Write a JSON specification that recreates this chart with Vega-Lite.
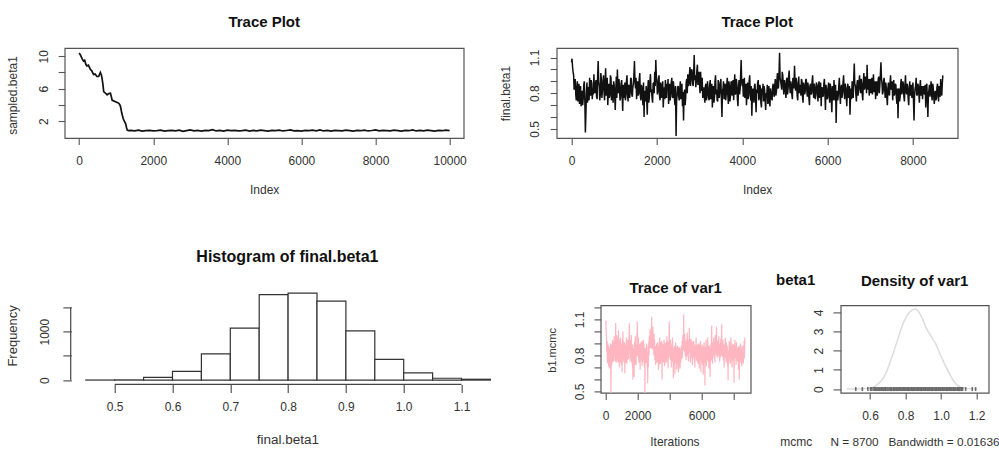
{
 "$schema": "https://vega.github.io/schema/vega-lite/v6.json",
 "background": "white",
 "padding": {"left": 5.7, "top": 14, "right": 0, "bottom": 0},
 "bounds": "flush",
 "spacing": 257.4,
 "config": {
  "font": "Liberation Sans",
  "view": {"stroke": "#555", "strokeWidth": 1.2},
  "axis": {"domain": false, "grid": false, "tickColor": "#555", "tickWidth": 1.1, "labelFont": "Liberation Sans", "labelFontSize": 12, "labelColor": "#333", "titleFont": "Liberation Sans", "titleFontSize": 12, "titleFontWeight": "normal", "titleColor": "#333", "labelOverlap": false, "labelFlush": false, "labelBound": false},
  "title": {"font": "Liberation Sans", "fontWeight": "bold", "color": "#111", "anchor": "middle", "frame": "group", "baseline": "alphabetic"}
 },
 "datasets": {
  "burn": [
   {"i":1,"v":10.4},{"i":40,"v":10.1},{"i":80,"v":9.7},{"i":117,"v":9.4},{"i":150,"v":9.5},{"i":180,"v":9.0},{"i":209,"v":8.8},{"i":250,"v":8.9},{"i":300,"v":8.4},{"i":340,"v":8.2},{"i":390,"v":7.75},{"i":430,"v":7.8},{"i":480,"v":7.5},{"i":527,"v":7.5},{"i":572,"v":8.0},{"i":600,"v":7.7},{"i":617,"v":7.3},{"i":640,"v":6.6},{"i":663,"v":5.65},{"i":700,"v":5.5},{"i":754,"v":5.25},{"i":800,"v":5.4},{"i":845,"v":5.45},{"i":870,"v":5.0},{"i":890,"v":4.6},{"i":930,"v":4.5},{"i":981,"v":4.4},{"i":1030,"v":4.3},{"i":1072,"v":4.2},{"i":1100,"v":4.0},{"i":1117,"v":3.8},{"i":1150,"v":3.0},{"i":1190,"v":2.3},{"i":1220,"v":2.0},{"i":1254,"v":1.7},{"i":1280,"v":1.2},{"i":1300,"v":0.9},{"i":1330,"v":0.85},
   {"i":1400,"v":0.86},{"i":1500,"v":0.82},{"i":1600,"v":0.90},{"i":1700,"v":0.79},{"i":1800,"v":0.85},{"i":1900,"v":0.88},{"i":2000,"v":0.80},{"i":2100,"v":0.84},{"i":2200,"v":0.91},{"i":2300,"v":0.78},
   {"i":2400,"v":0.83},{"i":2500,"v":0.87},{"i":2600,"v":0.81},{"i":2700,"v":0.89},{"i":2800,"v":0.76},{"i":2900,"v":0.85},{"i":3000,"v":0.92},{"i":3100,"v":0.82},{"i":3200,"v":0.86},{"i":3300,"v":0.79},
   {"i":3400,"v":0.88},{"i":3500,"v":0.84},{"i":3600,"v":0.95},{"i":3700,"v":0.80},{"i":3800,"v":0.86},{"i":3900,"v":0.78},{"i":4000,"v":0.90},{"i":4100,"v":0.83},{"i":4200,"v":0.87},{"i":4300,"v":0.81},
   {"i":4400,"v":0.85},{"i":4500,"v":0.91},{"i":4600,"v":0.79},{"i":4700,"v":0.86},{"i":4800,"v":0.82},{"i":4900,"v":0.89},{"i":5000,"v":0.84},{"i":5100,"v":0.77},{"i":5200,"v":0.88},{"i":5300,"v":0.83},
   {"i":5400,"v":0.90},{"i":5500,"v":0.80},{"i":5600,"v":0.86},{"i":5700,"v":0.93},{"i":5800,"v":0.81},{"i":5900,"v":0.85},{"i":6000,"v":0.78},{"i":6100,"v":0.87},{"i":6200,"v":0.83},{"i":6300,"v":0.89},
   {"i":6400,"v":0.82},{"i":6500,"v":0.94},{"i":6600,"v":0.80},{"i":6700,"v":0.86},{"i":6800,"v":0.79},{"i":6900,"v":0.88},{"i":7000,"v":0.84},{"i":7100,"v":0.81},{"i":7200,"v":0.90},{"i":7300,"v":0.85},
   {"i":7400,"v":0.78},{"i":7500,"v":0.87},{"i":7600,"v":0.83},{"i":7700,"v":0.91},{"i":7800,"v":0.80},{"i":7900,"v":0.86},{"i":8000,"v":0.94},{"i":8100,"v":0.82},{"i":8200,"v":0.88},{"i":8300,"v":0.84},
   {"i":8400,"v":0.81},{"i":8500,"v":0.90},{"i":8600,"v":0.85},{"i":8700,"v":0.79},{"i":8800,"v":0.87},{"i":8900,"v":0.83},{"i":9000,"v":0.92},{"i":9100,"v":0.80},{"i":9200,"v":0.86},{"i":9300,"v":0.82},
   {"i":9400,"v":0.89},{"i":9500,"v":0.84},{"i":9600,"v":0.78},{"i":9700,"v":0.88},{"i":9800,"v":0.83},{"i":9900,"v":0.91},{"i":10000,"v":0.85}
  ],
  "chain": [
   {"i":0,"v":1.06},{"i":25,"v":1.02},{"i":50,"v":0.95},{"i":75,"v":0.86},{"i":100,"v":0.79},{"i":125,"v":0.84},{"i":150,"v":0.73},{"i":175,"v":0.88},{"i":200,"v":0.78},{"i":225,"v":0.69},
   {"i":250,"v":0.82},{"i":275,"v":0.76},{"i":300,"v":0.90},{"i":325,"v":0.47},{"i":350,"v":0.80},{"i":375,"v":0.72},{"i":400,"v":0.85},{"i":425,"v":0.93},{"i":450,"v":0.78},{"i":475,"v":0.88},
   {"i":500,"v":0.84},{"i":525,"v":0.96},{"i":550,"v":0.80},{"i":575,"v":0.91},{"i":600,"v":0.75},{"i":625,"v":1.07},{"i":650,"v":0.86},{"i":675,"v":0.79},{"i":700,"v":0.92},{"i":725,"v":0.83},
   {"i":750,"v":0.95},{"i":775,"v":0.74},{"i":800,"v":1.01},{"i":825,"v":0.85},{"i":850,"v":0.70},{"i":875,"v":0.88},{"i":900,"v":0.79},{"i":925,"v":0.93},{"i":950,"v":0.81},{"i":975,"v":0.72},
   {"i":1000,"v":0.87},{"i":1025,"v":0.66},{"i":1050,"v":0.94},{"i":1075,"v":1.00},{"i":1100,"v":0.80},{"i":1125,"v":0.85},{"i":1150,"v":0.76},{"i":1175,"v":0.91},{"i":1200,"v":0.65},{"i":1225,"v":0.83},
   {"i":1250,"v":0.89},{"i":1275,"v":0.78},{"i":1300,"v":0.95},{"i":1325,"v":0.73},{"i":1350,"v":0.86},{"i":1375,"v":0.81},{"i":1400,"v":0.92},{"i":1425,"v":0.77},{"i":1450,"v":0.88},{"i":1475,"v":1.07},
   {"i":1500,"v":0.84},{"i":1525,"v":0.75},{"i":1550,"v":0.90},{"i":1575,"v":0.80},{"i":1600,"v":0.97},{"i":1625,"v":0.74},{"i":1650,"v":0.85},{"i":1675,"v":0.70},{"i":1700,"v":0.60},{"i":1725,"v":0.79},
   {"i":1750,"v":0.86},{"i":1775,"v":0.62},{"i":1800,"v":0.91},{"i":1825,"v":0.78},{"i":1850,"v":0.96},{"i":1875,"v":0.83},{"i":1900,"v":0.72},{"i":1925,"v":0.89},{"i":1950,"v":0.98},{"i":1975,"v":1.08},
   {"i":2000,"v":0.90},{"i":2025,"v":0.82},{"i":2050,"v":0.95},{"i":2075,"v":0.74},{"i":2100,"v":0.87},{"i":2125,"v":0.79},{"i":2150,"v":0.68},{"i":2175,"v":0.85},{"i":2200,"v":0.91},{"i":2225,"v":0.76},
   {"i":2250,"v":0.83},{"i":2275,"v":0.71},{"i":2300,"v":0.88},{"i":2325,"v":0.80},{"i":2350,"v":0.93},{"i":2375,"v":0.76},{"i":2400,"v":0.84},{"i":2425,"v":0.70},{"i":2450,"v":0.44},{"i":2475,"v":0.79},
   {"i":2500,"v":0.86},{"i":2525,"v":0.74},{"i":2550,"v":0.90},{"i":2575,"v":0.78},{"i":2600,"v":0.69},{"i":2625,"v":0.57},{"i":2650,"v":0.83},{"i":2675,"v":0.76},{"i":2700,"v":0.92},{"i":2725,"v":0.96},
   {"i":2750,"v":0.88},{"i":2775,"v":1.02},{"i":2800,"v":0.93},{"i":2825,"v":0.99},{"i":2850,"v":0.86},{"i":2875,"v":1.12},{"i":2900,"v":0.95},{"i":2925,"v":0.90},{"i":2950,"v":1.04},{"i":2975,"v":0.94},
   {"i":3000,"v":0.87},{"i":3025,"v":0.98},{"i":3050,"v":0.82},{"i":3075,"v":0.76},{"i":3100,"v":0.85},{"i":3125,"v":0.72},{"i":3150,"v":0.88},{"i":3175,"v":0.79},{"i":3200,"v":0.83},{"i":3225,"v":0.74},
   {"i":3250,"v":0.91},{"i":3275,"v":0.80},{"i":3300,"v":0.68},{"i":3325,"v":0.86},{"i":3350,"v":0.77},{"i":3375,"v":0.95},{"i":3400,"v":0.83},{"i":3425,"v":0.73},{"i":3450,"v":0.89},{"i":3475,"v":0.81},
   {"i":3500,"v":0.92},{"i":3525,"v":0.60},{"i":3550,"v":0.84},{"i":3575,"v":0.75},{"i":3600,"v":0.88},{"i":3625,"v":0.79},{"i":3650,"v":0.93},{"i":3675,"v":0.71},{"i":3700,"v":0.86},{"i":3725,"v":0.78},
   {"i":3750,"v":0.90},{"i":3775,"v":0.82},{"i":3800,"v":0.74},{"i":3825,"v":0.96},{"i":3850,"v":0.80},{"i":3875,"v":0.87},{"i":3900,"v":0.69},{"i":3925,"v":0.91},{"i":3950,"v":0.83},{"i":3975,"v":1.08},
   {"i":4000,"v":0.86},{"i":4025,"v":0.77},{"i":4050,"v":0.93},{"i":4075,"v":0.81},{"i":4100,"v":0.70},{"i":4125,"v":0.89},{"i":4150,"v":0.78},{"i":4175,"v":0.95},{"i":4200,"v":0.74},{"i":4225,"v":0.61},
   {"i":4250,"v":0.84},{"i":4275,"v":0.72},{"i":4300,"v":0.88},{"i":4325,"v":0.64},{"i":4350,"v":0.80},{"i":4375,"v":0.91},{"i":4400,"v":0.76},{"i":4425,"v":0.85},{"i":4450,"v":0.68},{"i":4475,"v":0.79},
   {"i":4500,"v":0.73},{"i":4525,"v":0.82},{"i":4550,"v":0.66},{"i":4575,"v":0.78},{"i":4600,"v":0.71},{"i":4625,"v":0.86},{"i":4650,"v":0.69},{"i":4675,"v":0.80},{"i":4700,"v":0.74},{"i":4725,"v":0.88},
   {"i":4750,"v":0.77},{"i":4775,"v":0.92},{"i":4800,"v":0.81},{"i":4825,"v":0.97},{"i":4850,"v":0.85},{"i":4875,"v":1.14},{"i":4900,"v":0.90},{"i":4925,"v":0.83},{"i":4950,"v":0.95},{"i":4975,"v":0.79},
   {"i":5000,"v":0.88},{"i":5025,"v":0.76},{"i":5050,"v":0.93},{"i":5075,"v":0.84},{"i":5100,"v":0.99},{"i":5125,"v":0.80},{"i":5150,"v":0.87},{"i":5175,"v":0.75},{"i":5200,"v":0.91},{"i":5225,"v":1.03},
   {"i":5250,"v":0.82},{"i":5275,"v":0.89},{"i":5300,"v":0.74},{"i":5325,"v":0.94},{"i":5350,"v":0.83},{"i":5375,"v":0.78},{"i":5400,"v":0.90},{"i":5425,"v":0.72},{"i":5450,"v":0.86},{"i":5475,"v":0.81},
   {"i":5500,"v":0.92},{"i":5525,"v":0.77},{"i":5550,"v":0.85},{"i":5575,"v":0.70},{"i":5600,"v":0.88},{"i":5625,"v":0.80},{"i":5650,"v":0.95},{"i":5675,"v":0.76},{"i":5700,"v":0.84},{"i":5725,"v":0.79},
   {"i":5750,"v":0.87},{"i":5775,"v":0.73},{"i":5800,"v":0.90},{"i":5825,"v":0.81},{"i":5850,"v":0.69},{"i":5875,"v":0.85},{"i":5900,"v":0.78},{"i":5925,"v":0.92},{"i":5950,"v":0.66},{"i":5975,"v":0.83},
   {"i":6000,"v":0.76},{"i":6025,"v":0.89},{"i":6050,"v":0.72},{"i":6075,"v":0.84},{"i":6100,"v":0.64},{"i":6125,"v":0.80},{"i":6150,"v":0.91},{"i":6175,"v":0.74},{"i":6200,"v":0.55},{"i":6225,"v":0.82},
   {"i":6250,"v":0.78},{"i":6275,"v":0.93},{"i":6300,"v":0.71},{"i":6325,"v":0.87},{"i":6350,"v":0.80},{"i":6375,"v":0.95},{"i":6400,"v":0.75},{"i":6425,"v":0.85},{"i":6450,"v":0.69},{"i":6475,"v":0.88},
   {"i":6500,"v":0.79},{"i":6525,"v":0.62},{"i":6550,"v":0.84},{"i":6575,"v":0.90},{"i":6600,"v":0.76},{"i":6625,"v":1.05},{"i":6650,"v":0.86},{"i":6675,"v":0.73},{"i":6700,"v":0.91},{"i":6725,"v":0.82},
   {"i":6750,"v":0.95},{"i":6775,"v":0.80},{"i":6800,"v":0.88},{"i":6825,"v":0.74},{"i":6850,"v":0.97},{"i":6875,"v":0.85},{"i":6900,"v":0.91},{"i":6925,"v":1.04},{"i":6950,"v":0.83},{"i":6975,"v":0.78},
   {"i":7000,"v":0.92},{"i":7025,"v":0.86},{"i":7050,"v":0.79},{"i":7075,"v":0.96},{"i":7100,"v":0.84},{"i":7125,"v":0.75},{"i":7150,"v":0.90},{"i":7175,"v":0.82},{"i":7200,"v":0.94},{"i":7225,"v":0.87},
   {"i":7250,"v":1.06},{"i":7275,"v":0.88},{"i":7300,"v":0.81},{"i":7325,"v":0.93},{"i":7350,"v":0.76},{"i":7375,"v":0.85},{"i":7400,"v":0.70},{"i":7425,"v":0.89},{"i":7450,"v":0.78},{"i":7475,"v":0.95},
   {"i":7500,"v":0.83},{"i":7525,"v":0.74},{"i":7550,"v":0.91},{"i":7575,"v":0.80},{"i":7600,"v":0.87},{"i":7625,"v":0.71},{"i":7650,"v":0.59},{"i":7675,"v":0.84},{"i":7700,"v":0.77},{"i":7725,"v":0.92},
   {"i":7750,"v":0.81},{"i":7775,"v":0.88},{"i":7800,"v":0.73},{"i":7825,"v":0.95},{"i":7850,"v":0.79},{"i":7875,"v":0.86},{"i":7900,"v":0.70},{"i":7925,"v":0.90},{"i":7950,"v":0.82},{"i":7975,"v":0.76},
   {"i":8000,"v":0.89},{"i":8025,"v":0.57},{"i":8050,"v":0.84},{"i":8075,"v":0.93},{"i":8100,"v":0.78},{"i":8125,"v":0.87},{"i":8150,"v":0.72},{"i":8175,"v":0.91},{"i":8200,"v":0.80},{"i":8225,"v":0.75},
   {"i":8250,"v":0.86},{"i":8275,"v":0.79},{"i":8300,"v":0.68},{"i":8325,"v":0.88},{"i":8350,"v":0.60},{"i":8375,"v":0.83},{"i":8400,"v":0.77},{"i":8425,"v":0.90},{"i":8450,"v":0.74},{"i":8475,"v":0.85},
   {"i":8500,"v":0.71},{"i":8525,"v":0.82},{"i":8550,"v":0.76},{"i":8575,"v":0.88},{"i":8600,"v":0.73},{"i":8625,"v":0.80},{"i":8650,"v":0.92},{"i":8675,"v":0.78},{"i":8700,"v":0.95},
   {"i":12,"v":1.09},{"i":37,"v":0.98},{"i":62,"v":0.83},{"i":87,"v":0.92},{"i":112,"v":0.74},{"i":137,"v":0.90},{"i":162,"v":0.80},{"i":187,"v":0.71},{"i":212,"v":0.86},{"i":237,"v":0.80},
   {"i":262,"v":0.70},{"i":287,"v":0.87},{"i":312,"v":0.74},{"i":337,"v":0.62},{"i":362,"v":0.89},{"i":387,"v":0.83},{"i":412,"v":0.74},{"i":437,"v":0.80},{"i":462,"v":0.91},{"i":487,"v":0.75},
   {"i":512,"v":0.79},{"i":537,"v":0.83},{"i":562,"v":0.88},{"i":587,"v":0.77},{"i":612,"v":0.94},{"i":637,"v":0.90},{"i":662,"v":0.74},{"i":687,"v":0.97},{"i":712,"v":0.76},{"i":737,"v":0.89},
   {"i":762,"v":0.81},{"i":787,"v":0.90},{"i":812,"v":0.78},{"i":837,"v":0.93},{"i":862,"v":0.81},{"i":887,"v":0.76},{"i":912,"v":0.95},{"i":937,"v":0.74},{"i":962,"v":0.87},{"i":987,"v":0.90},
   {"i":1012,"v":0.78},{"i":1037,"v":0.82},{"i":1062,"v":0.76},{"i":1087,"v":0.84},{"i":1112,"v":0.92},{"i":1137,"v":0.74},{"i":1162,"v":0.88},{"i":1187,"v":0.79},{"i":1212,"v":0.87},{"i":1237,"v":0.76},
   {"i":1262,"v":0.74},{"i":1287,"v":0.90},{"i":1312,"v":0.80},{"i":1337,"v":0.87},{"i":1362,"v":0.76},{"i":1387,"v":0.93},{"i":1412,"v":0.79},{"i":1437,"v":0.85},{"i":1462,"v":0.95},{"i":1487,"v":0.90},
   {"i":1512,"v":0.93},{"i":1537,"v":0.88},{"i":1562,"v":0.78},{"i":1587,"v":0.92},{"i":1612,"v":0.79},{"i":1637,"v":0.87},{"i":1662,"v":0.76},{"i":1687,"v":0.89},{"i":1712,"v":0.82},{"i":1737,"v":0.73},
   {"i":1762,"v":0.75},{"i":1787,"v":0.83},{"i":1812,"v":0.72},{"i":1837,"v":0.90},{"i":1862,"v":0.81},{"i":1887,"v":0.76},{"i":1912,"v":0.88},{"i":1937,"v":0.80},{"i":1962,"v":0.86},{"i":1987,"v":0.95},
   {"i":2012,"v":0.79},{"i":2037,"v":0.91},{"i":2062,"v":0.78},{"i":2087,"v":0.89},{"i":2112,"v":0.76},{"i":2137,"v":0.90},{"i":2162,"v":0.81},{"i":2187,"v":0.75},{"i":2212,"v":0.80},{"i":2237,"v":0.88},
   {"i":2262,"v":0.92},{"i":2287,"v":0.79},{"i":2312,"v":0.74},{"i":2337,"v":0.89},{"i":2362,"v":0.77},{"i":2387,"v":0.90},{"i":2412,"v":0.75},{"i":2437,"v":0.86},{"i":2462,"v":0.73},{"i":2487,"v":0.85},
   {"i":2512,"v":0.77},{"i":2537,"v":0.84},{"i":2562,"v":0.75},{"i":2587,"v":0.88},{"i":2612,"v":0.81},{"i":2637,"v":0.79},{"i":2662,"v":0.70},{"i":2687,"v":0.89},{"i":2712,"v":0.80},{"i":2737,"v":0.86},
   {"i":2762,"v":0.95},{"i":2787,"v":0.86},{"i":2812,"v":1.00},{"i":2837,"v":0.88},{"i":2862,"v":0.97},{"i":2887,"v":0.91},{"i":2912,"v":0.85},{"i":2937,"v":0.99},{"i":2962,"v":0.87},{"i":2987,"v":0.98},
   {"i":3012,"v":0.80},{"i":3037,"v":0.88},{"i":3062,"v":0.93},{"i":3087,"v":0.84},{"i":3112,"v":0.77},{"i":3137,"v":0.86},{"i":3162,"v":0.74},{"i":3187,"v":0.90},{"i":3212,"v":0.76},{"i":3237,"v":0.87},
   {"i":3262,"v":0.75},{"i":3287,"v":0.88},{"i":3312,"v":0.81},{"i":3337,"v":0.72},{"i":3362,"v":0.90},{"i":3387,"v":0.79},{"i":3412,"v":0.74},{"i":3437,"v":0.91},{"i":3462,"v":0.76},{"i":3487,"v":0.87},
   {"i":3512,"v":0.76},{"i":3537,"v":0.82},{"i":3562,"v":0.90},{"i":3587,"v":0.83},{"i":3612,"v":0.74},{"i":3637,"v":0.87},{"i":3662,"v":0.79},{"i":3687,"v":0.90},{"i":3712,"v":0.73},{"i":3737,"v":0.89},
   {"i":3762,"v":0.78},{"i":3787,"v":0.91},{"i":3812,"v":0.86},{"i":3837,"v":0.79},{"i":3862,"v":0.92},{"i":3887,"v":0.75},{"i":3912,"v":0.84},{"i":3937,"v":0.79},{"i":3962,"v":0.95},{"i":3987,"v":0.90},
   {"i":4012,"v":0.92},{"i":4037,"v":0.84},{"i":4062,"v":0.76},{"i":4087,"v":0.88},{"i":4112,"v":0.82},{"i":4137,"v":0.75},{"i":4162,"v":0.90},{"i":4187,"v":0.80},{"i":4212,"v":0.86},{"i":4237,"v":0.77},
   {"i":4262,"v":0.78},{"i":4287,"v":0.86},{"i":4312,"v":0.76},{"i":4337,"v":0.83},{"i":4362,"v":0.89},{"i":4387,"v":0.74},{"i":4412,"v":0.87},{"i":4437,"v":0.72},{"i":4462,"v":0.84},{"i":4487,"v":0.88},
   {"i":4512,"v":0.86},{"i":4537,"v":0.74},{"i":4562,"v":0.80},{"i":4587,"v":0.87},{"i":4612,"v":0.79},{"i":4637,"v":0.72},{"i":4662,"v":0.84},{"i":4687,"v":0.76},{"i":4712,"v":0.85},{"i":4737,"v":0.80},
   {"i":4762,"v":0.86},{"i":4787,"v":0.78},{"i":4812,"v":0.90},{"i":4837,"v":0.84},{"i":4862,"v":0.96},{"i":4887,"v":0.93},{"i":4912,"v":0.87},{"i":4937,"v":0.98},{"i":4962,"v":0.86},{"i":4987,"v":0.91},
   {"i":5012,"v":0.82},{"i":5037,"v":0.91},{"i":5062,"v":0.79},{"i":5087,"v":0.94},{"i":5112,"v":0.86},{"i":5137,"v":0.90},{"i":5162,"v":0.79},{"i":5187,"v":0.93},{"i":5212,"v":0.84},{"i":5237,"v":0.90},
   {"i":5262,"v":0.93},{"i":5287,"v":0.78},{"i":5312,"v":0.88},{"i":5337,"v":0.80},{"i":5362,"v":0.87},{"i":5387,"v":0.92},{"i":5412,"v":0.77},{"i":5437,"v":0.89},{"i":5462,"v":0.79},{"i":5487,"v":0.91},
   {"i":5512,"v":0.83},{"i":5537,"v":0.89},{"i":5562,"v":0.76},{"i":5587,"v":0.86},{"i":5612,"v":0.79},{"i":5637,"v":0.90},{"i":5662,"v":0.82},{"i":5687,"v":0.88},{"i":5712,"v":0.75},{"i":5737,"v":0.89},
   {"i":5762,"v":0.80},{"i":5787,"v":0.86},{"i":5812,"v":0.76},{"i":5837,"v":0.89},{"i":5862,"v":0.83},{"i":5887,"v":0.77},{"i":5912,"v":0.88},{"i":5937,"v":0.80},{"i":5962,"v":0.87},{"i":5987,"v":0.75},
   {"i":6012,"v":0.85},{"i":6037,"v":0.78},{"i":6062,"v":0.88},{"i":6087,"v":0.75},{"i":6112,"v":0.86},{"i":6137,"v":0.74},{"i":6162,"v":0.82},{"i":6187,"v":0.87},{"i":6212,"v":0.77},{"i":6237,"v":0.74},
   {"i":6262,"v":0.86},{"i":6287,"v":0.80},{"i":6312,"v":0.84},{"i":6337,"v":0.76},{"i":6362,"v":0.89},{"i":6387,"v":0.82},{"i":6412,"v":0.88},{"i":6437,"v":0.78},{"i":6462,"v":0.83},{"i":6487,"v":0.76},
   {"i":6512,"v":0.86},{"i":6537,"v":0.78},{"i":6562,"v":0.75},{"i":6587,"v":0.82},{"i":6612,"v":0.92},{"i":6637,"v":0.88},{"i":6662,"v":0.79},{"i":6687,"v":0.87},{"i":6712,"v":0.78},{"i":6737,"v":0.90},
   {"i":6762,"v":0.84},{"i":6787,"v":0.92},{"i":6812,"v":0.79},{"i":6837,"v":0.90},{"i":6862,"v":0.83},{"i":6887,"v":0.94},{"i":6912,"v":0.80},{"i":6937,"v":0.89},{"i":6962,"v":0.92},{"i":6987,"v":0.87},
   {"i":7012,"v":0.80},{"i":7037,"v":0.93},{"i":7062,"v":0.87},{"i":7087,"v":0.81},{"i":7112,"v":0.90},{"i":7137,"v":0.85},{"i":7162,"v":0.78},{"i":7187,"v":0.92},{"i":7212,"v":0.80},{"i":7237,"v":0.96},
   {"i":7262,"v":0.93},{"i":7287,"v":0.79},{"i":7312,"v":0.90},{"i":7337,"v":0.84},{"i":7362,"v":0.89},{"i":7387,"v":0.77},{"i":7412,"v":0.83},{"i":7437,"v":0.80},{"i":7462,"v":0.88},{"i":7487,"v":0.84},
   {"i":7512,"v":0.90},{"i":7537,"v":0.82},{"i":7562,"v":0.78},{"i":7587,"v":0.88},{"i":7612,"v":0.76},{"i":7637,"v":0.84},{"i":7662,"v":0.80},{"i":7687,"v":0.73},{"i":7712,"v":0.87},{"i":7737,"v":0.79},
   {"i":7762,"v":0.90},{"i":7787,"v":0.77},{"i":7812,"v":0.86},{"i":7837,"v":0.82},{"i":7862,"v":0.88},{"i":7887,"v":0.76},{"i":7912,"v":0.83},{"i":7937,"v":0.78},{"i":7962,"v":0.87},{"i":7987,"v":0.84},
   {"i":8012,"v":0.74},{"i":8037,"v":0.78},{"i":8062,"v":0.86},{"i":8087,"v":0.79},{"i":8112,"v":0.88},{"i":8137,"v":0.80},{"i":8162,"v":0.85},{"i":8187,"v":0.78},{"i":8212,"v":0.86},{"i":8237,"v":0.83},
   {"i":8262,"v":0.80},{"i":8287,"v":0.87},{"i":8312,"v":0.83},{"i":8337,"v":0.75},{"i":8362,"v":0.79},{"i":8387,"v":0.87},{"i":8412,"v":0.85},{"i":8437,"v":0.79},{"i":8462,"v":0.88},{"i":8487,"v":0.77},
   {"i":8512,"v":0.80},{"i":8537,"v":0.74},{"i":8562,"v":0.85},{"i":8587,"v":0.79},{"i":8612,"v":0.86},{"i":8637,"v":0.77},{"i":8662,"v":0.83},{"i":8687,"v":0.88}
  ],
  "hist": [
   {"lo":0.45,"hi":0.5,"n":1},{"lo":0.5,"hi":0.55,"n":4},{"lo":0.55,"hi":0.6,"n":58},{"lo":0.6,"hi":0.65,"n":182},{"lo":0.65,"hi":0.7,"n":540},{"lo":0.7,"hi":0.75,"n":1075},{"lo":0.75,"hi":0.8,"n":1765},{"lo":0.8,"hi":0.85,"n":1795},{"lo":0.85,"hi":0.9,"n":1630},{"lo":0.9,"hi":0.95,"n":1015},{"lo":0.95,"hi":1.0,"n":430},{"lo":1.0,"hi":1.05,"n":150},{"lo":1.05,"hi":1.1,"n":38},{"lo":1.1,"hi":1.15,"n":17}
  ],
  "dens": [
   {"x":0.47,"d":0.0},{"x":0.52,"d":0.01},{"x":0.56,"d":0.02},{"x":0.59,"d":0.04},{"x":0.613,"d":0.07},{"x":0.635,"d":0.18},{"x":0.66,"d":0.39},{"x":0.68,"d":0.65},{"x":0.698,"d":1.01},{"x":0.715,"d":1.45},{"x":0.735,"d":1.99},{"x":0.755,"d":2.55},{"x":0.772,"d":3.06},{"x":0.79,"d":3.5},{"x":0.81,"d":3.86},{"x":0.825,"d":4.03},{"x":0.838,"d":4.13},{"x":0.857,"d":4.18},{"x":0.872,"d":4.06},{"x":0.885,"d":3.86},{"x":0.9,"d":3.55},{"x":0.913,"d":3.24},{"x":0.928,"d":2.98},{"x":0.942,"d":2.79},{"x":0.955,"d":2.58},{"x":0.97,"d":2.35},{"x":0.985,"d":2.05},{"x":0.998,"d":1.73},{"x":1.017,"d":1.35},{"x":1.035,"d":1.01},{"x":1.055,"d":0.66},{"x":1.072,"d":0.39},{"x":1.09,"d":0.2},{"x":1.11,"d":0.07},{"x":1.14,"d":0.03},{"x":1.17,"d":0.01},{"x":1.2,"d":0.0}
  ],
  "rug": [
   {"x":0.52},{"x":0.557},{"x":0.588},{"x":0.603},{"x":0.611},{"x":0.622},{"x":0.629},{"x":0.637},{"x":0.645},{"x":0.652},{"x":0.661},{"x":0.668},{"x":0.676},{"x":0.684},{"x":0.69},{"x":0.699},{"x":0.707},{"x":0.715},{"x":0.722},{"x":0.731},{"x":0.738},{"x":0.746},{"x":0.753},{"x":0.762},{"x":0.769},{"x":0.777},{"x":0.785},{"x":0.792},{"x":0.8},{"x":0.808},{"x":0.815},{"x":0.823},{"x":0.831},{"x":0.838},{"x":0.846},{"x":0.853},{"x":0.861},{"x":0.869},{"x":0.876},{"x":0.884},{"x":0.891},{"x":0.899},{"x":0.907},{"x":0.914},{"x":0.922},{"x":0.93},{"x":0.937},{"x":0.945},{"x":0.952},{"x":0.96},{"x":0.968},{"x":0.975},{"x":0.983},{"x":0.99},{"x":0.998},{"x":1.006},{"x":1.013},{"x":1.021},{"x":1.029},{"x":1.036},{"x":1.044},{"x":1.051},{"x":1.059},{"x":1.067},{"x":1.074},{"x":1.082},{"x":1.09},{"x":1.097},{"x":1.105},{"x":1.113},{"x":1.121},{"x":1.138},{"x":1.175},{"x":1.194}
  ]
 },
 "vconcat": [
  {
   "bounds": "flush",
   "spacing": 93,
   "hconcat": [
    {
     "width": 399, "height": 90,
     "title": {"text": "Trace Plot", "fontSize": 15, "offset": 18.2},
     "data": {"name": "burn"},
     "mark": {"type": "line", "color": "#111", "strokeWidth": 1.7},
     "encoding": {
      "x": {"field": "i", "type": "quantitative", "scale": {"domain": [-390, 10380], "nice": false, "zero": false},
            "axis": {"values": [0, 2000, 4000, 6000, 8000, 10000], "format": "d", "labelOverlap": false, "tickSize": 6.5, "labelPadding": 19.5, "labelBaseline": "alphabetic", "labelAlign": "center", "labelAngle": 0, "title": "Index", "titleX": 199.5, "titleY": 55.5, "titleBaseline": "alphabetic", "titleAlign": "center"}},
      "y": {"field": "v", "type": "quantitative", "scale": {"domain": [-0.067, 11.01], "nice": false, "zero": false},
            "axis": {"values": [2, 4, 6, 8, 10], "format": "d", "labelOverlap": false, "labelExpr": "datum.value % 4 == 2 ? datum.label : ''", "tickSize": 6.5, "labelPadding": 10.8, "labelAngle": -90, "labelAlign": "center", "labelBaseline": "alphabetic", "title": "sampled.beta1", "titleAngle": -90, "titleX": -48, "titleY": 47, "titleBaseline": "alphabetic", "titleAlign": "center"}}
     }
    },
    {
     "width": 401, "height": 90,
     "title": {"text": "Trace Plot", "fontSize": 15, "offset": 18.2},
     "data": {"name": "chain"},
     "mark": {"type": "line", "color": "#111", "strokeWidth": 1.5},
     "encoding": {
      "x": {"field": "i", "type": "quantitative", "scale": {"domain": [-347, 9048], "nice": false, "zero": false},
            "axis": {"values": [0, 2000, 4000, 6000, 8000], "format": "d", "labelOverlap": false, "tickSize": 6.5, "labelPadding": 19.5, "labelBaseline": "alphabetic", "labelAlign": "center", "labelAngle": 0, "title": "Index", "titleX": 200.5, "titleY": 55.5, "titleBaseline": "alphabetic", "titleAlign": "center"}},
      "y": {"field": "v", "type": "quantitative", "scale": {"domain": [0.4235, 1.18], "nice": false, "zero": false},
            "axis": {"values": [0.5, 0.6, 0.7, 0.8, 0.9, 1.0, 1.1], "format": ".1f", "labelOverlap": false, "labelExpr": "abs(datum.value - 0.5) < 0.01 || abs(datum.value - 0.8) < 0.01 || abs(datum.value - 1.1) < 0.01 ? datum.label : ''", "tickSize": 6.5, "labelPadding": 11.2, "labelAngle": -90, "labelAlign": "center", "labelBaseline": "alphabetic", "title": "final.beta1", "titleAngle": -90, "titleX": -47, "titleY": 45, "titleBaseline": "alphabetic", "titleAlign": "center"}}
     }
    }
   ]
  },
  {
   "bounds": "flush",
   "spacing": 110,
   "hconcat": [
    {
     "width": 426, "height": 79,
     "view": {"stroke": null},
     "title": {"text": "Histogram of final.beta1", "fontSize": 16, "offset": 27.9, "dx": 9.7},
     "layer": [
      {
       "data": {"name": "hist"},
       "mark": {"type": "rect", "fill": "white", "stroke": "#333", "strokeWidth": 1.2},
       "encoding": {
        "x": {"field": "lo", "type": "quantitative", "scale": {"domain": [0.4135, 1.1505], "nice": false, "zero": false},
              "axis": {"values": [0.5, 0.6, 0.7, 0.8, 0.9, 1.0, 1.1], "format": ".1f", "labelOverlap": false, "tickSize": 8, "tickColor": "#444", "labelPadding": 18.3, "labelBaseline": "alphabetic", "labelAlign": "center", "labelAngle": 0, "title": "final.beta1", "titleFontSize": 13.5, "titleX": 222.7, "titleY": 59, "titleBaseline": "alphabetic", "titleAlign": "center"}},
        "x2": {"field": "hi"},
        "y": {"field": "n", "type": "quantitative", "scale": {"domain": [-89, 1543], "nice": false, "zero": false},
              "axis": {"values": [0, 500, 1000, 1500], "format": "d", "labelOverlap": false, "labelExpr": "datum.value == 500 || datum.value == 1500 ? '' : datum.label", "offset": -6.7, "tickSize": 8.5, "tickColor": "#444", "labelPadding": 13.9, "labelAngle": -90, "labelAlign": "center", "labelBaseline": "alphabetic", "title": "Frequency", "titleFontSize": 13, "titleAngle": -90, "titleX": -55, "titleY": 30, "titleBaseline": "alphabetic", "titleAlign": "center"}},
        "y2": {"datum": 0}
       }
      },
      {
       "data": {"values": [{}]},
       "mark": {"type": "rule", "color": "#444", "strokeWidth": 1.2},
       "encoding": {
        "x": {"datum": 0.4239, "type": "quantitative",
              "axis": {"values": [0.5, 0.6, 0.7, 0.8, 0.9, 1.0, 1.1], "format": ".1f", "labelOverlap": false, "tickSize": 8, "tickColor": "#444", "labelPadding": 18.3, "labelBaseline": "alphabetic", "labelAlign": "center", "labelAngle": 0, "title": "final.beta1", "titleFontSize": 13.5, "titleX": 222.7, "titleY": 59, "titleBaseline": "alphabetic", "titleAlign": "center"}},
        "y": {"datum": 0, "type": "quantitative",
              "axis": {"values": [0, 500, 1000, 1500], "format": "d", "labelOverlap": false, "labelExpr": "datum.value == 500 || datum.value == 1500 ? '' : datum.label", "offset": -6.7, "tickSize": 8.5, "tickColor": "#444", "labelPadding": 13.9, "labelAngle": -90, "labelAlign": "center", "labelBaseline": "alphabetic", "title": "Frequency", "titleFontSize": 13, "titleAngle": -90, "titleX": -55, "titleY": 30, "titleBaseline": "alphabetic", "titleAlign": "center"}},
        "y2": {"datum": 1500}
       }
      },
      {
       "data": {"values": [{}]},
       "mark": {"type": "rule", "color": "#444", "strokeWidth": 1.2},
       "encoding": {
        "x": {"datum": 0.5, "type": "quantitative",
              "axis": {"values": [0.5, 0.6, 0.7, 0.8, 0.9, 1.0, 1.1], "format": ".1f", "labelOverlap": false, "tickSize": 8, "tickColor": "#444", "labelPadding": 18.3, "labelBaseline": "alphabetic", "labelAlign": "center", "labelAngle": 0, "title": "final.beta1", "titleFontSize": 13.5, "titleX": 222.7, "titleY": 59, "titleBaseline": "alphabetic", "titleAlign": "center"}},
        "x2": {"datum": 1.1},
        "y": {"datum": -89, "type": "quantitative",
              "axis": {"values": [0, 500, 1000, 1500], "format": "d", "labelOverlap": false, "labelExpr": "datum.value == 500 || datum.value == 1500 ? '' : datum.label", "offset": -6.7, "tickSize": 8.5, "tickColor": "#444", "labelPadding": 13.9, "labelAngle": -90, "labelAlign": "center", "labelBaseline": "alphabetic", "title": "Frequency", "titleFontSize": 13, "titleAngle": -90, "titleX": -55, "titleY": 30, "titleBaseline": "alphabetic", "titleAlign": "center"}}
       }
      }
     ]
    },
    {
     "bounds": "flush",
     "spacing": 35,
     "hconcat": [
      {
       "width": 150, "height": 87.5,
       "title": {"text": "Trace of var1", "fontSize": 15, "offset": 9.4},
       "data": {"name": "chain"},
       "mark": {"type": "line", "color": "#FFB6C1", "strokeWidth": 1.2, "clip": true},
       "encoding": {
        "x": {"field": "i", "type": "quantitative", "scale": {"domain": [-312, 9062], "nice": false, "zero": false},
              "axis": {"values": [0, 2000, 4000, 6000, 8000], "format": "d", "labelOverlap": false, "labelExpr": "datum.value == 4000 || datum.value == 8000 ? '' : datum.label", "tickSize": 6.7, "labelPadding": 19.5, "labelBaseline": "alphabetic", "labelAlign": "center", "labelAngle": 0, "title": "Iterations", "titleX": 73.7, "titleY": 52.2, "titleBaseline": "alphabetic", "titleAlign": "center"}},
        "y": {"field": "v", "type": "quantitative", "scale": {"domain": [0.4875, 1.2167], "nice": false, "zero": false},
              "axis": {"values": [0.5, 0.6, 0.7, 0.8, 0.9, 1.0, 1.1, 1.2], "format": ".1f", "labelOverlap": false, "labelExpr": "abs(datum.value - 0.5) < 0.01 || abs(datum.value - 0.8) < 0.01 || abs(datum.value - 1.1) < 0.01 ? datum.label : ''", "tickSize": 6.7, "labelPadding": 10, "labelAngle": -90, "labelAlign": "center", "labelBaseline": "alphabetic", "title": "b1.mcmc", "titleFontSize": 11, "titleAngle": -90, "titleX": -45, "titleY": 44.5, "titleBaseline": "alphabetic", "titleAlign": "center"}}
       }
      },
      {
       "width": 20, "height": 87.5,
       "view": {"stroke": null},
       "title": {"text": "beta1", "fontSize": 15, "offset": 17.3},
       "data": {"values": [{"i": 0}]},
       "mark": {"type": "point", "opacity": 0},
       "encoding": {
        "x": {"field": "i", "type": "quantitative", "axis": {"ticks": false, "labels": false, "title": "mcmc", "titleX": 10, "titleY": 52.2, "titleBaseline": "alphabetic", "titleAlign": "center"}}
       }
      },
      {
       "width": 148, "height": 87.5,
       "title": {"text": "Density of var1", "fontSize": 15, "offset": 16.7},
       "layer": [
        {
         "data": {"name": "dens"},
         "mark": {"type": "line", "color": "#dcdcdc", "strokeWidth": 1.5},
         "encoding": {
          "x": {"field": "x", "type": "quantitative", "scale": {"domain": [0.4352, 1.2675], "nice": false, "zero": false},
                "axis": {"values": [0.6, 0.8, 1.0, 1.2], "format": ".1f", "labelOverlap": false, "tickSize": 6, "labelPadding": 20.2, "labelBaseline": "alphabetic", "labelAlign": "center", "labelAngle": 0, "title": "N = 8700\u00a0\u00a0\u00a0Bandwidth = 0.01636", "titleFontSize": 11.8, "titleX": 73.8, "titleY": 52.2, "titleBaseline": "alphabetic", "titleAlign": "center"}},
          "y": {"field": "d", "type": "quantitative", "scale": {"domain": [-0.2, 4.36], "nice": false, "zero": false},
                "axis": {"values": [0, 1, 2, 3, 4], "format": "d", "labelOverlap": false, "tickSize": 7.7, "labelPadding": 10.3, "labelAngle": -90, "labelAlign": "center", "labelBaseline": "alphabetic", "title": null}}
         }
        },
        {
         "data": {"name": "rug"},
         "mark": {"type": "tick", "orient": "vertical", "color": "#333", "size": 4, "thickness": 1.6},
         "encoding": {
          "x": {"field": "x", "type": "quantitative",
                "axis": {"values": [0.6, 0.8, 1.0, 1.2], "format": ".1f", "labelOverlap": false, "tickSize": 6, "labelPadding": 20.2, "labelBaseline": "alphabetic", "labelAlign": "center", "labelAngle": 0, "title": "N = 8700\u00a0\u00a0\u00a0Bandwidth = 0.01636", "titleFontSize": 11.8, "titleX": 73.8, "titleY": 52.2, "titleBaseline": "alphabetic", "titleAlign": "center"}},
          "y": {"datum": 0, "type": "quantitative",
                "axis": {"values": [0, 1, 2, 3, 4], "format": "d", "labelOverlap": false, "tickSize": 7.7, "labelPadding": 10.3, "labelAngle": -90, "labelAlign": "center", "labelBaseline": "alphabetic", "title": null}}
         }
        }
       ]
      }
     ]
    }
   ]
  }
 ]
}
